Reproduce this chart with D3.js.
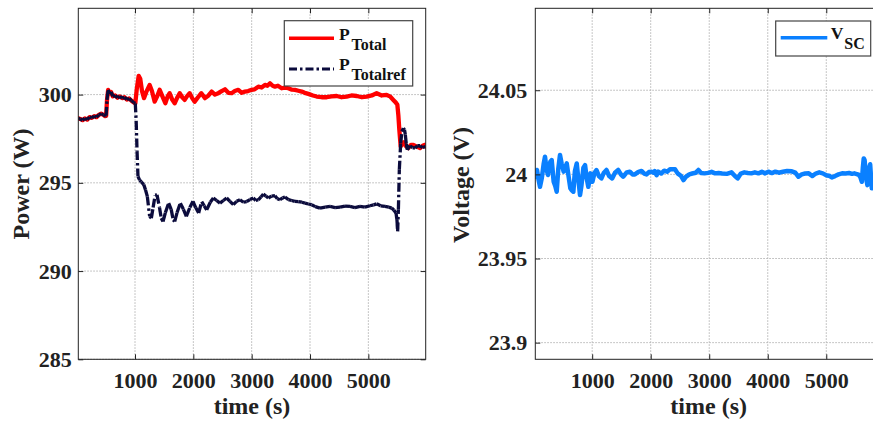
<!DOCTYPE html>
<html><head><meta charset="utf-8">
<script src="https://cdn.jsdelivr.net/npm/d3@7/dist/d3.min.js"></script>
<style>body{margin:0;background:#fff}</style>
</head><body>
<svg id="c" width="873" height="423" xmlns="http://www.w3.org/2000/svg"></svg>
<script>
// ---------------- DATA ----------------
const xTicks = [1000, 2000, 3000, 4000, 5000];
const powerTicks = [285, 290, 295, 300];
const voltageTicks = [23.9, 23.95, 24, 24.05];
const timeDomain = [28, 5983];
const powerDomain = [285, 304.89];
const voltageDomain = [23.8901, 24.0987];

const timeTotal = [28,60,100,140,180,220,260,300,340,380,420,460,490,505,520,540,560,590,620,660,700,740,780,820,860,900,940,980,1005,1030,1063,1090,1120,1154,1200,1251,1290,1337,1380,1423,1470,1520,1560,1594,1640,1680,1720,1766,1810,1851,1890,1937,1980,2023,2080,2137,2200,2260,2314,2370,2428,2485,2542,2600,2657,2710,2771,2830,2885,2940,2999,3050,3114,3170,3228,3270,3314,3360,3399,3450,3514,3570,3628,3690,3742,3800,3857,3910,3971,4050,4114,4200,4285,4370,4457,4540,4628,4710,4800,4890,4971,5060,5142,5230,5314,5370,5428,5470,5497,5515,5531,5554,5580,5610,5640,5685,5730,5771,5830,5885,5930,5971,5983];
const pTotal = [298.66,298.62,298.55,298.65,298.58,298.72,298.68,298.78,298.72,298.85,298.92,298.85,298.78,298.8,299.7,300.27,300.05,300.15,299.9,299.95,299.82,299.9,299.8,299.85,299.72,299.78,299.65,299.55,299.5,300.3,301.06,300.9,300.2,299.8,300.2,300.55,300.2,299.6,299.9,300.27,299.9,299.51,299.9,300.08,299.7,299.51,299.8,300.08,299.85,299.7,299.9,300.08,299.8,299.6,299.85,300.08,299.8,299.95,300.17,300.0,300.08,300.2,300.3,300.1,300.08,300.2,300.27,300.1,300.17,300.2,300.27,300.3,300.45,300.4,300.55,300.5,300.64,300.5,300.45,300.5,300.36,300.4,300.36,300.28,300.27,300.22,300.17,300.1,300.04,299.95,299.89,299.85,299.85,299.9,299.92,299.85,299.89,299.95,299.92,299.85,299.89,299.95,300.08,299.95,299.98,299.9,299.7,299.55,299.42,298.8,298.0,297.06,297.2,297.3,297.1,296.97,297.15,297.15,297.05,296.97,297.1,297.15,297.05];

const timeRef = [28,60,100,140,180,220,260,300,340,380,420,460,490,505,520,540,560,590,620,660,700,740,780,820,860,900,940,980,1005,1020,1035,1051,1080,1108,1150,1180,1211,1251,1280,1310,1345,1377,1420,1450,1480,1520,1577,1620,1655,1680,1720,1777,1830,1880,1940,1994,2040,2091,2143,2186,2229,2290,2343,2400,2457,2514,2571,2628,2685,2742,2800,2857,2914,2970,3028,3070,3114,3160,3200,3245,3285,3340,3399,3440,3485,3530,3571,3630,3685,3740,3800,3860,3914,3970,4028,4090,4171,4260,4343,4430,4514,4600,4685,4770,4857,4940,5028,5090,5142,5210,5285,5350,5400,5440,5474,5490,5502,5515,5531,5554,5575,5600,5620,5634,5650,5668,5690,5714,5760,5800,5840,5885,5930,5983];
const pTotalRef = [298.66,298.62,298.55,298.65,298.58,298.72,298.68,298.78,298.72,298.85,298.92,298.85,298.78,298.8,299.7,300.27,300.05,300.15,299.9,299.95,299.82,299.9,299.8,299.85,299.72,299.78,299.65,299.55,299.5,298.5,296.8,295.36,295.15,295.05,294.9,294.6,294.23,293.1,293.0,293.6,294.3,294.32,293.6,293.0,292.81,293.3,293.85,293.5,292.9,292.81,293.3,293.85,293.5,293.1,293.6,293.95,293.6,293.29,293.94,293.7,293.47,293.9,294.14,294.0,293.85,294.0,294.14,293.95,293.76,293.95,294.04,293.9,293.94,294.05,294.14,294.0,294.04,294.2,294.36,294.25,294.14,294.25,294.27,294.1,294.04,294.15,294.2,294.05,294.0,293.95,293.94,293.9,293.85,293.8,293.76,293.65,293.57,293.62,293.66,293.6,293.62,293.68,293.66,293.6,293.66,293.62,293.7,293.75,293.81,293.7,293.66,293.62,293.57,293.45,293.29,292.9,292.25,293.5,295.74,297.25,297.9,298.1,298.0,297.72,297.2,296.87,297.0,297.1,297.0,296.97,297.1,297.1,297.0,297.06];

const timeVsc = [28,57,80,108,140,170,194,220,245,265,285,308,342,370,394,420,450,480,513,540,565,600,627,650,678,705,736,770,792,815,850,878,905,934,970,1004,1040,1073,1115,1158,1200,1244,1290,1341,1390,1444,1490,1529,1590,1643,1690,1729,1790,1843,1890,1929,1970,2015,2050,2070,2100,2130,2180,2230,2280,2330,2380,2415,2460,2520,2560,2600,2660,2710,2770,2815,2860,2920,2980,3040,3100,3160,3220,3300,3380,3440,3485,3540,3600,3660,3720,3780,3840,3900,3955,4010,4070,4130,4190,4260,4330,4411,4470,4525,4580,4640,4700,4760,4820,4880,4940,5000,5060,5095,5150,5210,5270,5330,5390,5440,5480,5520,5551,5580,5608,5625,5640,5655,5670,5690,5703,5725,5750,5765,5778,5800,5850,5900,5983];
const vSC = [23.9986,24.0026,23.9975,23.9926,23.998,24.006,24.0105,24.003,23.9996,24.005,24.0075,24.0085,23.9956,23.993,23.9897,24.003,24.0115,24.006,24.0016,24.004,24.0065,23.998,23.9917,23.9905,23.9897,24.002,24.0065,23.995,23.9877,23.993,24.004,24.0055,23.998,23.9926,24.0006,23.9956,24.001,24.0026,23.999,23.9976,24.001,24.0026,23.999,23.9976,24.001,24.0026,24.0,23.9986,24.0012,24.0016,24.0,24.0,24.0015,24.002,24.0005,24.0,24.0014,24.0016,24.001,24.002,23.9995,24.0016,24.0005,24.0022,24.0016,24.003,24.0031,24.003,24.0006,23.999,23.9966,23.9985,24.0,24.0005,24.001,24.0026,24.0008,24.0006,24.0009,24.0015,24.0006,24.0008,24.0005,24.0003,24.0012,23.999,23.9976,24.0005,24.0012,24.0008,24.0006,24.0012,24.0006,24.0015,24.0006,24.0016,24.0008,24.0016,24.001,24.0016,24.002,24.0018,24.001,23.9986,24.0,24.0005,24.0006,23.999,24.0005,24.0012,24.0006,23.9995,23.999,23.9982,23.999,24.0,24.0006,24.0005,24.0008,24.0003,24.0006,24.0002,23.9998,23.9985,23.9956,24.004,24.0095,24.0085,24.002,23.996,23.9936,24.003,24.006,23.998,23.9917,23.995,24.0,24.001,24.0];

// ---------------- DRAW ----------------
const FONT = '"Liberation Serif","Times New Roman",Times,serif';
const svg = d3.select('#c');
svg.append('rect').attr('width', 873).attr('height', 423).attr('fill', '#fff');

function panel(cfg) {
  const x = d3.scaleLinear().domain(timeDomain).range([cfg.x0, cfg.x1]);
  const y = d3.scaleLinear().domain(cfg.yDomain).range([cfg.y1, cfg.y0]);
  const g = svg.append('g');
  const clipId = 'clip' + cfg.id;
  g.append('clipPath').attr('id', clipId).append('rect')
    .attr('x', cfg.x0).attr('y', cfg.y0).attr('width', cfg.x1 - cfg.x0).attr('height', cfg.y1 - cfg.y0);

  // grid
  const grid = g.append('g').attr('stroke', '#b4b4b4').attr('stroke-width', 1).attr('stroke-dasharray', '1.5,1.5');
  grid.selectAll('.gx').data(xTicks).join('line')
    .attr('x1', d => x(d)).attr('x2', d => x(d)).attr('y1', cfg.y0).attr('y2', cfg.y1);
  grid.selectAll('.gy').data(cfg.yTicks).join('line')
    .attr('x1', cfg.x0).attr('x2', cfg.x1).attr('y1', d => y(d)).attr('y2', d => y(d));

  // series
  const lg = g.append('g').attr('clip-path', `url(#${clipId})`);
  cfg.series.forEach(s => {
    const pts = d3.zip(s.t, s.v);
    if (s.dash) {
      // dash pattern restarts on every segment (dense data looks solid, long segments show dashes)
      lg.append('g').selectAll('line').data(d3.pairs(pts)).join('line')
        .attr('x1', d => x(d[0][0])).attr('y1', d => y(d[0][1]))
        .attr('x2', d => x(d[1][0])).attr('y2', d => y(d[1][1]))
        .attr('stroke', s.color).attr('stroke-width', s.width)
        .attr('stroke-linecap', 'butt').attr('stroke-dasharray', s.dash);
    } else {
      const line = d3.line().x(d => x(d[0])).y(d => y(d[1]));
      lg.append('path').datum(pts)
        .attr('fill', 'none').attr('stroke', s.color).attr('stroke-width', s.width)
        .attr('stroke-linejoin', 'round').attr('stroke-linecap', 'round')
        .attr('d', line);
    }
  });

  // axes
  const styleAxis = sel => {
    sel.select('.domain').remove();
    sel.selectAll('.tick line').attr('stroke', '#222');
    sel.selectAll('.tick text').attr('font-family', FONT).attr('font-size', 22)
      .attr('font-weight', 'bold').attr('fill', '#222');
  };
  g.append('g').attr('transform', `translate(0,${cfg.y1})`)
    .call(d3.axisBottom(x).tickValues(xTicks).tickSizeInner(-5).tickSizeOuter(0).tickPadding(12.8).tickFormat(d => String(d)))
    .call(styleAxis);
  g.append('g').attr('transform', `translate(0,${cfg.y0})`)
    .call(d3.axisTop(x).tickValues(xTicks).tickSizeInner(-5).tickSizeOuter(0).tickFormat(''))
    .call(styleAxis);
  g.append('g').attr('transform', `translate(${cfg.x0},0)`)
    .call(d3.axisLeft(y).tickValues(cfg.yTicks).tickSizeInner(-5).tickSizeOuter(0).tickPadding(cfg.yPad).tickFormat(d => String(d)))
    .call(styleAxis);
  g.append('g').attr('transform', `translate(${cfg.x1},0)`)
    .call(d3.axisRight(y).tickValues(cfg.yTicks).tickSizeInner(-5).tickSizeOuter(0).tickFormat(''))
    .call(styleAxis);

  // box
  g.append('rect').attr('x', cfg.x0).attr('y', cfg.y0).attr('width', cfg.x1 - cfg.x0).attr('height', cfg.y1 - cfg.y0)
    .attr('fill', 'none').attr('stroke', '#222').attr('stroke-width', 1);

  // labels
  g.append('text').attr('x', (cfg.x0 + Math.min(cfg.x1, 882)) / 2).attr('y', 413.5)
    .attr('text-anchor', 'middle').attr('font-family', FONT).attr('font-size', 24).attr('font-weight', 'bold').attr('fill', '#222')
    .text('time (s)');
  g.append('text').attr('transform', `translate(${cfg.ylabX},${cfg.ylabY}) rotate(-90)`)
    .attr('text-anchor', 'middle').attr('font-family', FONT).attr('font-size', 24).attr('font-weight', 'bold').attr('fill', '#222')
    .text(cfg.ylabel);

  // legend
  const L = cfg.legend;
  const lgd = g.append('g');
  lgd.append('rect').attr('x', L.x).attr('y', L.y).attr('width', L.w).attr('height', L.h)
    .attr('fill', '#fff').attr('stroke', '#444').attr('stroke-width', 1.2);
  L.items.forEach(it => {
    lgd.append('line').attr('x1', L.lx1).attr('x2', L.lx2).attr('y1', it.ly).attr('y2', it.ly)
      .attr('stroke', it.color).attr('stroke-width', it.width).attr('stroke-dasharray', it.dash || null);
    lgd.append('text').attr('x', L.tx).attr('y', it.by).attr('font-family', FONT).attr('font-size', 17.5)
      .attr('font-weight', 'bold').attr('fill', '#111').text(it.main);
    lgd.append('text').attr('x', L.sx).attr('y', it.by + 10).attr('font-family', FONT).attr('font-size', 16)
      .attr('font-weight', 'bold').attr('fill', '#111').text(it.sub);
  });
}

panel({
  id: 'L', x0: 78.3, x1: 425.7, y0: 8.3, y1: 359.3,
  yDomain: powerDomain, yTicks: powerTicks, yPad: 6.6,
  ylabel: 'Power (W)', ylabX: 28.5, ylabY: 184,
  series: [
    { t: timeTotal, v: pTotal, color: '#ff0000', width: 4.3 },
    { t: timeRef, v: pTotalRef, color: '#0b0b3c', width: 3.3, dash: '9,3,2.5,3' }
  ],
  legend: {
    x: 284.3, y: 20.7, w: 128.4, h: 65.3, lx1: 289, lx2: 334, tx: 339, sx: 351.5,
    items: [
      { main: 'P', sub: 'Total', color: '#ff0000', width: 3.5, ly: 38.3, by: 40 },
      { main: 'P', sub: 'Totalref', color: '#0b0b3c', width: 3, dash: '8,3,2.5,3', ly: 69, by: 70 }
    ]
  }
});

panel({
  id: 'R', x0: 535.3, x1: 883.8, y0: 8.3, y1: 359.3,
  yDomain: voltageDomain, yTicks: voltageTicks, yPad: 8,
  ylabel: 'Voltage (V)', ylabX: 468.5, ylabY: 185,
  series: [
    { t: timeVsc, v: vSC, color: '#0a80ff', width: 4.5 }
  ],
  legend: {
    x: 775.7, y: 21, w: 95, h: 35, lx1: 780.7, lx2: 827.3, tx: 830.7, sx: 844.3,
    items: [
      { main: 'V', sub: 'SC', color: '#0a80ff', width: 3.5, ly: 37.7, by: 39.3 }
    ]
  }
});
</script>
</body></html>
